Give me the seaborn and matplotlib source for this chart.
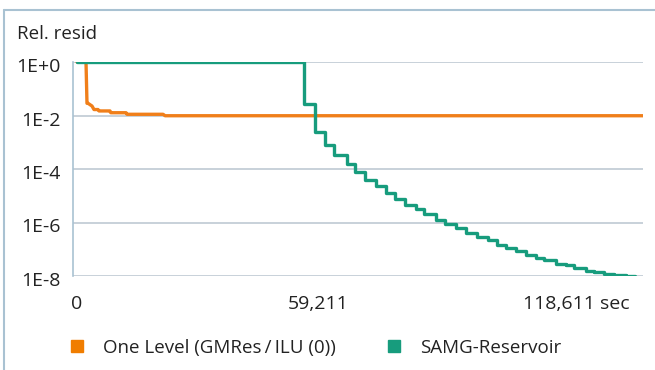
import seaborn as sns
import matplotlib.pyplot as plt
import matplotlib.transforms as mtransforms
from matplotlib.lines import Line2D
import pandas as pd

# 色とスタイル
sns.set_theme(style="white")
plt.rcParams['font.family'] = ['Open Sans', 'DejaVu Sans']

ORANGE = '#f07f1a'
GREEN = '#179c7d'
FRAME = '#a9c2d2'
GRID = '#bfcad3'
TEXT = '#222222'

# --- データ ---
# One Level (GMRes / ILU (0)): 頂点
orange_t = [0, 2211, 2452, 2701, 3685, 4175, 5158, 5403, 8105, 8288,
            12035, 12280, 21121, 21613, 138900]
orange_r = [1.0, 1.0, 2.86e-2, 2.86e-2, 2.26e-2, 1.67e-2, 1.67e-2, 1.48e-2,
            1.48e-2, 1.27e-2, 1.27e-2, 1.11e-2, 1.11e-2, 9.8e-3, 9.8e-3]

# SAMG-Reservoir: 階段状 (各ステップの開始時刻と値)
green_t = [0, 55750, 58453, 60909, 62996, 66188, 68153, 70732, 73434, 75890,
           78100, 80556, 83135, 85222, 88170, 90380, 93081, 95537, 98116,
           100818, 103028, 105361, 107817, 110273, 112606, 114693, 117641,
           120097, 122061, 125009, 126973, 129429, 131885, 134832, 137043]
green_r = [1.0, 2.7e-2, 2.5e-3, 7.9e-4, 3.3e-4, 1.5e-4, 7.5e-5, 3.9e-5,
           2.3e-5, 1.3e-5, 7.5e-6, 4.5e-6, 3.1e-6, 2.0e-6, 1.2e-6, 8.7e-7,
           6.0e-7, 4.1e-7, 2.9e-7, 2.2e-7, 1.5e-7, 1.1e-7, 8.4e-8, 6.1e-8,
           4.6e-8, 4.0e-8, 2.8e-8, 2.5e-8, 2.0e-8, 1.5e-8, 1.4e-8, 1.2e-8,
           1.1e-8, 1.0e-8, 1.0e-8]

series_names = ['One Level (GMRes\u2009/\u2009ILU (0))', 'SAMG-Reservoir']
x_ticks = [0, 59211, 118611]
x_ticklabels = ['0', '59,211', '118,611 sec']
y_ticks = [1e0, 1e-2, 1e-4, 1e-6, 1e-8]
y_ticklabels = ['1E+0', '1E-2', '1E-4', '1E-6', '1E-8']

orange_df = pd.DataFrame({'t': orange_t, 'r': orange_r})
green_df = pd.DataFrame({'t': green_t, 'r': green_r})

W, H = 655, 370
fig = plt.figure(figsize=(W / 100, H / 100), dpi=100)
ax = fig.add_axes([73 / W, 1 - 276 / H, 570 / W, 214 / H])

sns.lineplot(data=orange_df, x='t', y='r', ax=ax, color=ORANGE, lw=2.4,
             sort=False, estimator=None, zorder=3)
sns.lineplot(data=green_df, x='t', y='r', ax=ax, color=GREEN, lw=2.4,
             sort=False, estimator=None, drawstyle='steps-post', zorder=4)

ax.set_yscale('log')
ax.set_ylim(1e-8, 1.0)
ax.set_xlim(-980, 138900)
ax.set_xlabel('')
ax.set_ylabel('')

ax.set_yticks(y_ticks)
ax.set_yticklabels(y_ticklabels)
ax.yaxis.set_minor_locator(plt.NullLocator())
ax.set_xticks(x_ticks)
ax.set_xticklabels(x_ticklabels)
ax.tick_params(axis='both', length=0, labelsize=14, colors=TEXT)
ax.tick_params(axis='y', pad=9)
ax.tick_params(axis='x', pad=14)

# ラベル位置の微調整
for lab in ax.get_yticklabels():
    lab.set_transform(lab.get_transform() +
                      mtransforms.ScaledTranslation(0, -3 / 100, fig.dpi_scale_trans))
last = ax.get_xticklabels()[-1]
last.set_transform(last.get_transform() +
                   mtransforms.ScaledTranslation(16 / 100, 0, fig.dpi_scale_trans))

ax.grid(axis='y', color=GRID, lw=1.2)
ax.grid(axis='x', visible=False)
for side in ['top', 'right', 'bottom']:
    ax.spines[side].set_visible(False)
ax.spines['left'].set_color(FRAME)
ax.spines['left'].set_linewidth(1.2)

fig.text(17 / W, 1 - 34 / H, 'Rel. resid', fontsize=13.5, color=TEXT,
         ha='left', va='center')

# 外枠 (上と左のみ)
fig.add_artist(Line2D([4 / W, 1], [1 - 10 / H, 1 - 10 / H], color=FRAME, lw=1.5,
                      transform=fig.transFigure))
fig.add_artist(Line2D([4 / W, 4 / W], [0, 1 - 10 / H], color=FRAME, lw=1.5,
                      transform=fig.transFigure))

# 凡例 (項目ごとに配置)
legend_colors = ['#f07d00', '#179c7d']
legend_x = [68, 385]
for name, c, lx in zip(series_names, legend_colors, legend_x):
    h = Line2D([], [], marker='s', ls='none', color=c, markersize=8)
    fig.legend([h], [name], loc='center left',
               bbox_to_anchor=(lx / W, 1 - 348 / H), frameon=False,
               fontsize=13.5, handlelength=1.0, handletextpad=0.86,
               labelcolor=TEXT, borderaxespad=0, borderpad=0)

fig.savefig('out.png', dpi=100)
